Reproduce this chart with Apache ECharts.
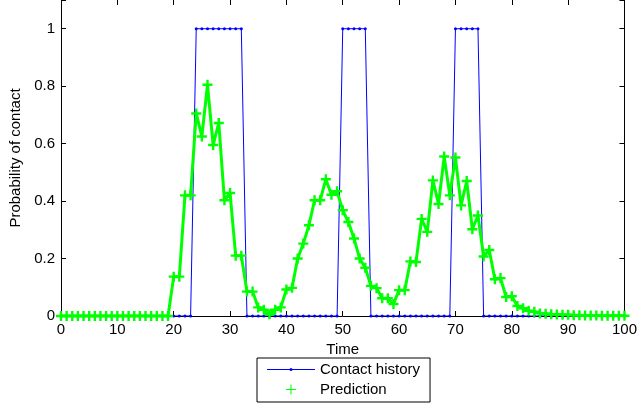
<!DOCTYPE html>
<html>
<head>
<meta charset="utf-8">
<script src="https://cdn.jsdelivr.net/npm/echarts@6/dist/echarts.min.js"></script>
<style>
html,body{margin:0;padding:0;background:#fff;}
#chart{width:640px;height:406px;}
</style>
</head>
<body>
<div id="chart"></div>
<script>
var time = [0,1,2,3,4,5,6,7,8,9,10,11,12,13,14,15,16,17,18,19,20,21,22,23,24,25,26,27,28,29,30,31,32,33,34,35,36,37,38,39,40,41,42,43,44,45,46,47,48,49,50,51,52,53,54,55,56,57,58,59,60,61,62,63,64,65,66,67,68,69,70,71,72,73,74,75,76,77,78,79,80,81,82,83,84,85,86,87,88,89,90,91,92,93,94,95,96,97,98,99,100];

var contactHistory = [
  0,0,0,0,0,0,0,0,0,0, 0,0,0,0,0,0,0,0,0,0, 0,0,0,0,1,1,1,1,1,1,
  1,1,1,0,0,0,0,0,0,0, 0,0,0,0,0,0,0,0,0,0, 1,1,1,1,1,0,0,0,0,0,
  0,0,0,0,0,0,0,0,0,0, 1,1,1,1,1,0,0,0,0,0, 0,0,0,0,0,0,0,0,0,0,
  0,0,0,0,0,0,0,0,0,0, 0
];

var prediction = [
  0,0,0,0,0,0,0,0,0,0, 0,0,0,0,0,0,0,0,0,0,
  0.137,0.137,0.42,0.42,0.705,0.625,0.805,0.595,0.672,0.403,
  0.428,0.21,0.21,0.085,0.085,0.03,0.022,0.006,0.022,0.03,
  0.092,0.098,0.2,0.252,0.316,0.403,0.403,0.476,0.422,0.434,
  0.368,0.327,0.27,0.2,0.168,0.105,0.097,0.062,0.062,0.042,
  0.09,0.09,0.19,0.188,0.338,0.293,0.472,0.39,0.555,0.42,
  0.552,0.385,0.47,0.302,0.35,0.207,0.23,0.128,0.132,0.066,
  0.069,0.035,0.027,0.018,0.015,0.009,0.008,0.006,0.005,0.004,
  0.004,0.003,0.003,0.002,0.002,0.002,0.001,0.001,0.001,0.001,
  0.001
];

var xTicks = {min: 0, max: 100, interval: 10};
var yTicks = {min: 0, max: 1.1, interval: 0.2};

var FONT = 'Liberation Sans, Arial, Helvetica, sans-serif';
var plusPath = 'path://M3.8 0H6.2V3.8H10V6.2H6.2V10H3.8V6.2H0V3.8H3.8Z';
var plusLegend = 'path://M4.5 0H5.5V4.5H10V5.5H5.5V10H4.5V5.5H0V4.5H4.5Z';
var lineDotLegend = 'path://M0 4.5H48V5.5H0Z M22.5 5A1.5 1.5 0 1 1 25.5 5A1.5 1.5 0 1 1 22.5 5Z';

function pairs(xs, ys){ return xs.map(function(x,i){ return [x, ys[i]]; }); }

var axisLineStyle = {color:'#000', width:1};
var chart = echarts.init(document.getElementById('chart'), null, {renderer:'canvas'});
chart.setOption({
  animation: false,
  backgroundColor: '#fff',
  grid: {left: 61, right: 10, top: 0, bottom: 90, containLabel: false},
  xAxis: [{
    type: 'value', min: xTicks.min, max: xTicks.max, interval: xTicks.interval,
    position: 'bottom',
    name: 'Time', nameLocation: 'middle', nameGap: 23,
    nameTextStyle: {color:'#000', fontSize: 15, fontFamily: FONT},
    axisLine: {show: true, onZero: false, lineStyle: axisLineStyle},
    axisTick: {show: true, inside: true, length: 5, lineStyle: axisLineStyle},
    axisLabel: {color:'#000', fontSize: 15, fontFamily: FONT, margin: 6, alignMaxLabel: 'center', alignMinLabel: 'center'},
    splitLine: {show: false}
  },{
    type: 'value', min: xTicks.min, max: xTicks.max, interval: xTicks.interval,
    position: 'top',
    axisLine: {show: false, onZero: false, lineStyle: axisLineStyle},
    axisTick: {show: true, inside: true, length: 5, lineStyle: axisLineStyle},
    axisLabel: {show: false},
    splitLine: {show: false}
  }],
  yAxis: [{
    type: 'value', min: yTicks.min, max: yTicks.max, interval: yTicks.interval,
    position: 'left',
    name: 'Probability of contact', nameLocation: 'middle', nameGap: 36, nameRotate: 90,
    nameTextStyle: {color:'#000', fontSize: 15, fontFamily: FONT},
    axisLine: {show: true, onZero: false, lineStyle: axisLineStyle},
    axisTick: {show: true, inside: true, length: 5, lineStyle: axisLineStyle},
    axisLabel: {color:'#000', fontSize: 15, fontFamily: FONT, margin: 6,
      formatter: function(v){ return v > 1.05 ? '' : String(Math.round(v*10)/10); }},
    splitLine: {show: false}
  },{
    type: 'value', min: yTicks.min, max: yTicks.max, interval: yTicks.interval,
    position: 'right',
    axisLine: {show: true, onZero: false, lineStyle: axisLineStyle},
    axisTick: {show: true, inside: true, length: 5, lineStyle: axisLineStyle},
    axisLabel: {show: false},
    splitLine: {show: false}
  }],
  legend: {
    show: true,
    orient: 'vertical',
    left: 257, top: 358,
    padding: [4, 10, 5, 10],
    itemWidth: 48, itemHeight: 10, itemGap: 5,
    backgroundColor: '#fff',
    borderColor: '#000', borderWidth: 1, borderRadius: 0,
    textStyle: {color:'#000', fontSize: 15, fontFamily: FONT},
    itemStyle: {borderWidth: 0},
    selectedMode: false,
    data: [
      {name: 'Contact history', icon: lineDotLegend, itemStyle: {color: '#0000ff', borderWidth: 0}},
      {name: 'Prediction', icon: plusLegend, itemStyle: {color: '#00ff00', borderWidth: 0}}
    ]
  },
  series: [{
    name: 'Contact history',
    type: 'line',
    data: pairs(time, contactHistory),
    color: '#0000ff',
    lineStyle: {color:'#0000ff', width: 1},
    itemStyle: {color:'#0000ff', borderWidth: 0},
    symbol: 'circle', symbolSize: 3, showSymbol: true,
    symbolKeepAspect: true,
    z: 2,
    emphasis: {disabled: true},
    silent: true
  },{
    name: 'Prediction',
    type: 'line',
    data: pairs(time, prediction),
    color: '#00ff00',
    lineStyle: {color:'#00ff00', width: 3},
    itemStyle: {color:'#00ff00', borderWidth: 0},
    symbol: plusPath, symbolSize: 10, showSymbol: true,
    symbolKeepAspect: true,
    z: 3,
    emphasis: {disabled: true},
    silent: true
  }]
});
</script>
</body>
</html>
